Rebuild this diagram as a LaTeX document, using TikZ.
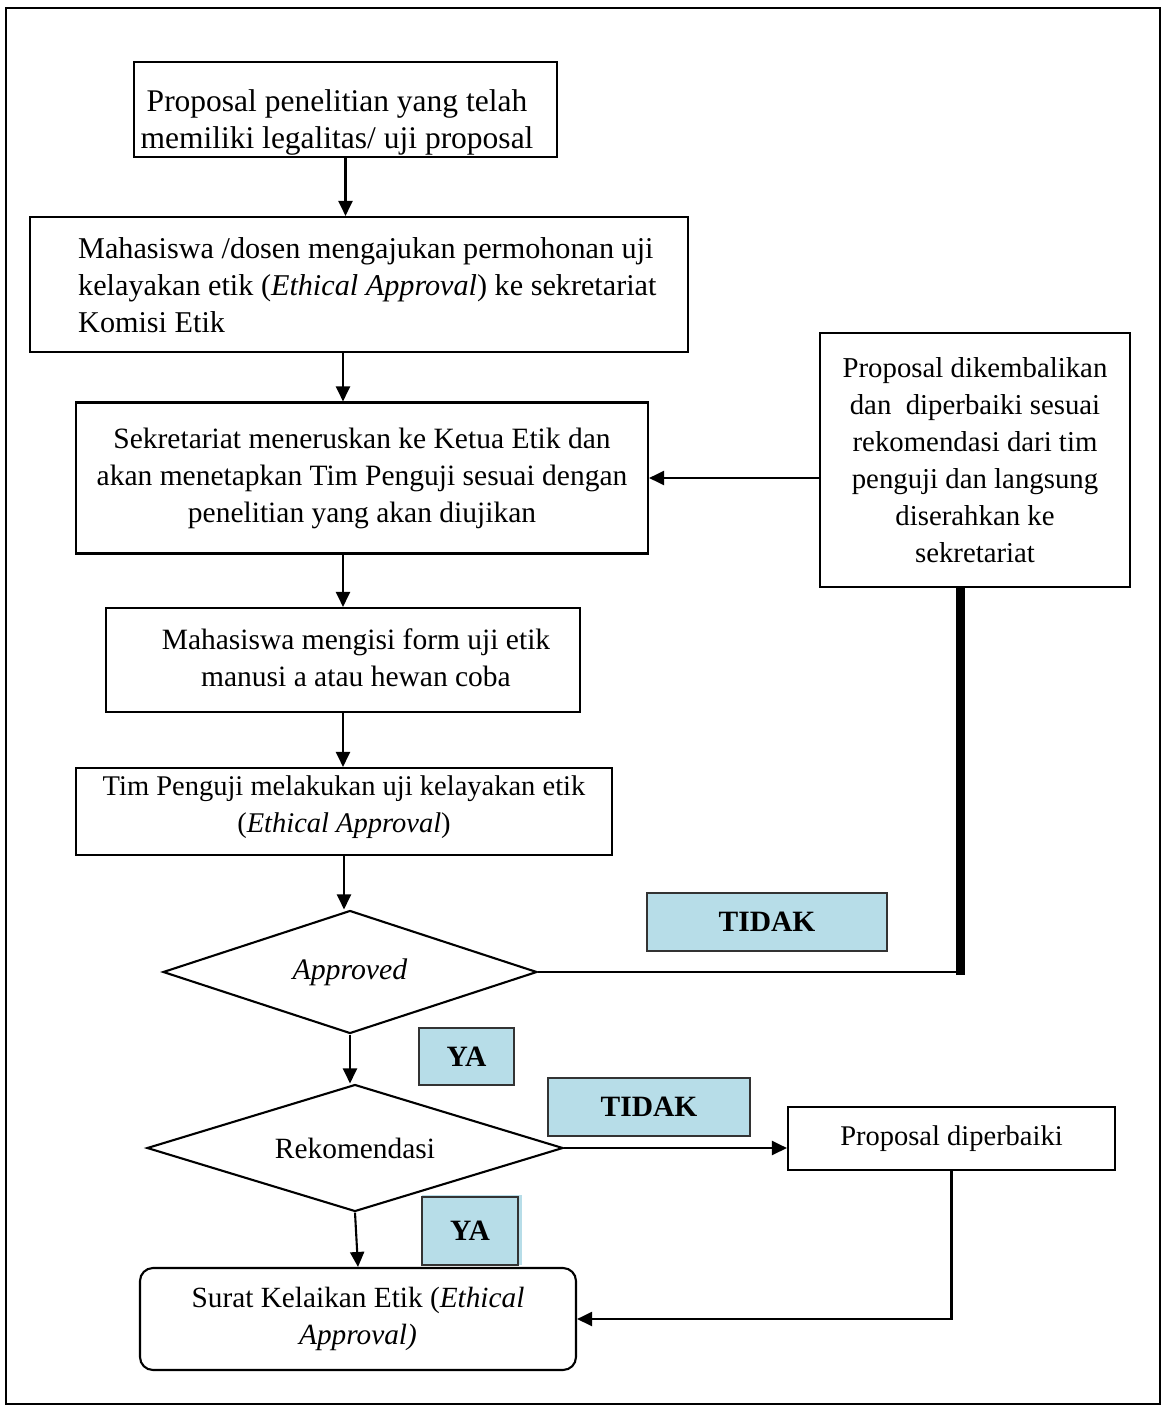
\documentclass[tikz,border=0pt]{standalone}
\usepackage{fontspec}
\setmainfont{Liberation Serif}
\usetikzlibrary{shapes.geometric,arrows.meta,calc}
\definecolor{lblue}{HTML}{B7DDE8}
\newcommand{\fs}[1]{\fontsize{#1}{37}\selectfont}
\begin{document}
\begin{tikzpicture}[x=1pt,y=-1pt,
  every node/.style={font=\fs{28.5}},
  box/.style={draw,line width=2.1pt,rectangle,inner sep=0pt,align=center},
  dec/.style={draw,line width=2.1pt,diamond,inner sep=0pt,aspect=3},
  lab/.style={draw=black!80,line width=2pt,fill=lblue,inner sep=0pt,font=\fs{29.5}\bfseries},
  arr/.style={line width=2.1pt,-{Triangle[length=15pt,width=14pt]}},
  ln/.style={line width=2.1pt}]
\useasboundingbox (0,0) rectangle (1166,1410);
\draw[line width=2pt] (6,8) rectangle (1160,1404);

\node[box,minimum width=423pt,minimum height=95pt] (b1) at (345.5,109.5) {};
\node[align=center,inner sep=0pt,font=\fs{31.5}] (b1t) at (337,122)
  {Proposal penelitian yang telah\\memiliki legalitas/ uji proposal};
\node[box,minimum width=658pt,minimum height=135pt] (b2) at (359,284.5) {};
\node[anchor=west,align=left,inner sep=0pt,font=\fs{30.2}] (b2t) at (78,285)
  {Mahasiswa /dosen mengajukan permohonan uji\\kelayakan etik (\textit{Ethical Approval}) ke sekretariat\\Komisi Etik};
\node[box,minimum width=572pt,minimum height=151pt,font=\fs{29.5}] (b3) at (362,478)
  {Sekretariat meneruskan ke Ketua Etik dan\\akan menetapkan Tim Penguji sesuai dengan\\penelitian yang akan diujikan};
\node[box,minimum width=474pt,minimum height=104pt] (b4) at (343,660) {};
\node[align=center,inner sep=0pt,font=\fs{29.5}] (b4t) at (356,657.5)
  {Mahasiswa mengisi form uji etik\\manusi a atau hewan coba};
\node[box,minimum width=536pt,minimum height=87pt] (b5) at (344,811.5) {};
\node[align=center,inner sep=0pt] (b5t) at (344,807.5)
  {Tim Penguji melakukan uji kelayakan etik\\(\textit{Ethical Approval})};
\node[dec,minimum width=374pt,minimum height=123pt,font=\fs{29.8}] (d1) at (350,972) {\textit{Approved}};
\node[box,minimum width=310pt,minimum height=254pt,font=\fs{28.8}] (b6) at (975,460)
  {Proposal dikembalikan\\dan\ \ diperbaiki sesuai\\rekomendasi dari tim\\penguji dan langsung\\diserahkan ke\\sekretariat};
\node[dec,minimum width=416pt,minimum height=127pt,font=\fs{29.4}] (d2) at (355,1148) {Rekomendasi};
\node[box,minimum width=327pt,minimum height=63pt] (b7) at (951.5,1138.5) {Proposal diperbaiki};
\node[box,rounded corners=13pt,minimum width=436pt,minimum height=102pt,font=\fs{29.3}] (fin) at (358,1319)
  {Surat Kelaikan Etik (\textit{Ethical}\\\textit{Approval)}};

\node[lab,minimum width=240pt,minimum height=58pt] (t1) at (767,922) {TIDAK};
\node[lab,minimum width=95pt,minimum height=57pt] (y1) at (466.5,1056.5) {YA};
\node[lab,minimum width=202pt,minimum height=58pt] (t2) at (649,1107) {TIDAK};
\fill[lblue] (422,1195) rectangle (522,1265);
\node[lab,minimum width=96pt,minimum height=68pt] (y2) at (470,1231) {YA};

\draw[arr] (b1.south) -- (b1.south |- b2.north);
\draw[arr] (b4.north |- b2.south) -- (b4.north |- b3.north);
\draw[arr] (b4.north |- b3.south) -- (b4.north);
\draw[arr] (b4.south) -- (b4.south |- b5.north);
\draw[arr] (b5.south) -- (b5.south |- d1.north);
\draw[arr] (d1.south) -- (d1.south |- d2.north);
\draw[arr] (d2.south) -- (fin.north);
\coordinate (k) at (d1.east -| 960,0);
\draw[ln] (d1.east) -- (k);
\draw[line width=9pt] ([yshift=-3pt]k) -- (k |- b6.south);
\draw[arr] (b6.west |- b3.east) -- (b3.east);
\draw[arr] (d2.east) -- (b7.west |- d2.east);
\draw[arr] (b7.south) |- (fin.east);
\end{tikzpicture}
\end{document}
